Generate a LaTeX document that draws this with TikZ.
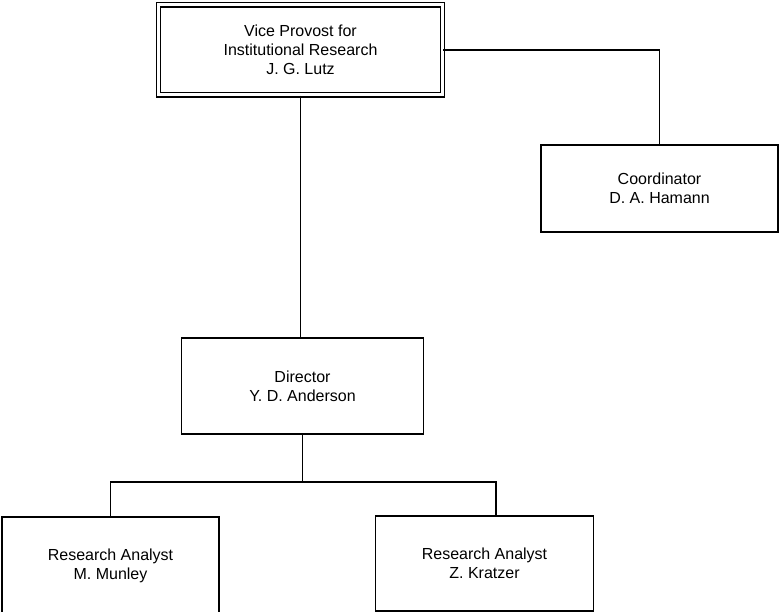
\documentclass[tikz,border=0pt]{standalone}
\usepackage{fontspec}
\setmainfont{Liberation Sans}
\usetikzlibrary{positioning, calc}

\begin{document}
\begin{tikzpicture}[x=1pt, y=-1pt, line width=1.3pt,
    casella/.style={draw, rectangle, align=center, inner sep=0pt,
        font=\fontsize{16}{19}\selectfont}]
        \useasboundingbox (0,0) rectangle (779,612);
        %caselle
        \node[casella, double, double distance=3pt, minimum width=284, minimum height=90] (vp) at (300.5,50)
            {Vice Provost for\\Institutional Research\\J. G. Lutz};
        \node[casella, minimum width=237, minimum height=87] (coord) at (659.5,188.5)
            {Coordinator\\D. A. Hamann};
        \node[casella, minimum width=242, minimum height=96] (dir) at (302.5,386)
            {Director\\Y. D. Anderson};
        \node[casella, minimum width=217, minimum height=97] (mm) at (110.5,565.5)
            {Research Analyst\\M. Munley};
        \node[casella, minimum width=218, minimum height=95] (kz) at (484.5,563.5)
            {Research Analyst\\Z. Kratzer};
        %collegamenti
        \coordinate (snodo) at (302.5,482);
        \draw (vp.south) -- (vp.south |- dir.north);
        \draw (vp.east) -| (coord.north);
        \draw (dir.south) -- (snodo);
        \draw (mm.north) |- (snodo) -| ([xshift=11.5pt]kz.north);
    \end{tikzpicture}
\end{document}
